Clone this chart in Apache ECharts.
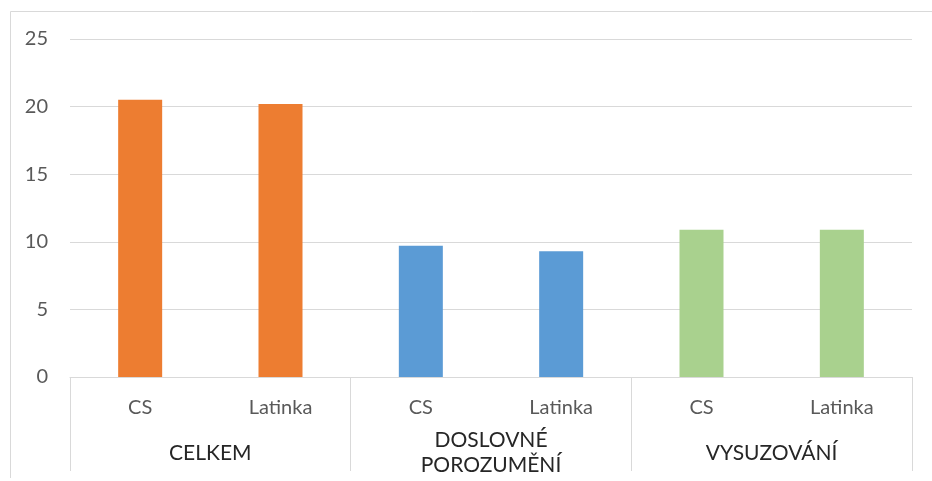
<!DOCTYPE html>
<html>
<head>
<meta charset="utf-8">
<style>
  html, body { margin: 0; padding: 0; background: #ffffff; }
  #chart { width: 932px; height: 481px; }
</style>
<script src="https://cdn.jsdelivr.net/npm/echarts@6/dist/echarts.min.js"></script>
</head>
<body>
<div id="chart"></div>
<script>
// Sub-categories along the inner axis row
const subCategories = ['CS', 'Latinka', 'CS', 'Latinka', 'CS', 'Latinka'];
// Outer grouping row
const groups = ['CELKEM', 'DOSLOVNÉ\nPOROZUMĚNÍ', 'VYSUZOVÁNÍ'];
// Values per group (CS, Latinka)
const celkem = [20.5, 20.2];
const doslovne = [9.7, 9.3];
const vysuzovani = [10.9, 10.9];
// Value axis ticks
const yMin = 0, yMax = 25, yStep = 5;

const groupColors = ['#ED7D31', '#5B9BD5', '#A9D18E'];
const groupValues = [celkem, doslovne, vysuzovani];

// Each group becomes its own series, placed only at its two slots
const series = groupValues.map((vals, gi) => {
  const data = subCategories.map(() => null);
  vals.forEach((v, i) => { data[gi * 2 + i] = v; });
  return {
    type: 'bar',
    stack: 'all',
    barWidth: 44,
    data: data,
    itemStyle: { color: groupColors[gi] },
    silent: true
  };
});

const font = 'Lato, "Open Sans", sans-serif';

const chart = echarts.init(document.getElementById('chart'), null, { renderer: 'canvas' });
chart.setOption({
  animation: false,
  backgroundColor: '#ffffff',
  grid: { left: 70, right: 20, top: 39, bottom: 104, containLabel: false },
  xAxis: [
    {
      type: 'category',
      data: subCategories,
      position: 'bottom',
      axisLine: { show: true, lineStyle: { color: '#d9d9d9', width: 1 } },
      axisTick: { show: false },
      axisLabel: { interval: 0, margin: 21, fontSize: 20, color: '#595959', fontFamily: font }
    },
    {
      type: 'category',
      data: groups,
      position: 'bottom',
      axisLine: { show: false },
      axisTick: { show: true, length: 94, lineStyle: { color: '#d9d9d9', width: 1 } },
      axisLabel: {
        interval: 0, margin: 76, verticalAlign: 'middle', lineHeight: 25,
        fontSize: 21, color: '#262626', fontFamily: font
      }
    }
  ],
  yAxis: {
    type: 'value',
    min: yMin, max: yMax, interval: yStep,
    axisLine: { show: false },
    axisTick: { show: false },
    splitLine: { lineStyle: { color: '#d9d9d9', width: 1 } },
    axisLabel: { margin: 22, fontSize: 20, color: '#595959', fontFamily: font }
  },
  graphic: [
    { type: 'line', shape: { x1: 10.5, y1: 11.5, x2: 932, y2: 11.5 }, style: { stroke: '#d9d9d9', lineWidth: 1 } },
    { type: 'line', shape: { x1: 10.5, y1: 11.5, x2: 10.5, y2: 478 }, style: { stroke: '#d9d9d9', lineWidth: 1 } }
  ],
  series: series
});
</script>
</body>
</html>
